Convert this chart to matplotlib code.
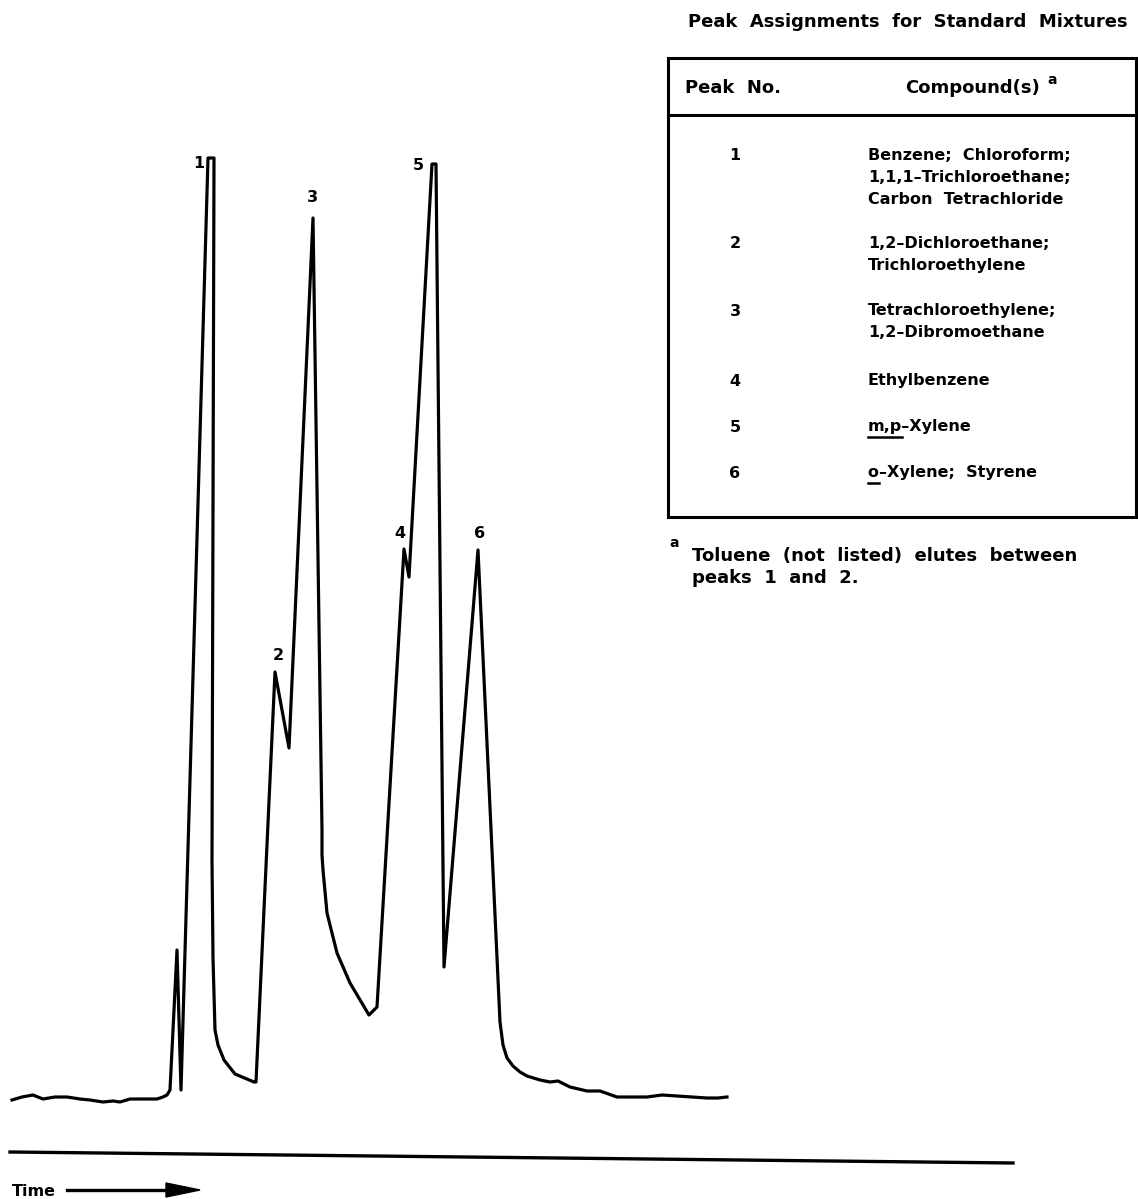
import numpy as np
import matplotlib.pyplot as plt
from matplotlib.patches import Rectangle, Polygon

plt.rcParams['font.family'] = ['DejaVu Sans']

# chromatogram trace (x = time, y = detector position, page units)
trace_time = [12, 22, 33, 43, 55, 67, 80, 90, 103, 113, 120, 130, 145, 157, 163, 167, 170,
              177, 181, 208, 214, 212, 213, 215, 218, 224, 235, 254, 256,
              275, 289, 313, 322, 322, 323, 327, 337, 350, 369, 377,
              404, 409, 432, 436, 444, 478, 500, 503, 507, 513, 520, 527, 540, 550,
              558, 570, 587, 600, 617, 632, 647, 662, 677, 692, 707, 718, 727]
trace_signal = [1100, 1097, 1095, 1099, 1097, 1097, 1099, 1100, 1102, 1101, 1102, 1099, 1099, 1099, 1097, 1095, 1090,
                950, 1090, 158, 158, 860, 958, 1030, 1045, 1060, 1074, 1082, 1082,
                672, 748, 218, 830, 855, 870, 913, 953, 983, 1015, 1007,
                549, 577, 164, 164, 967, 550, 1022, 1045, 1058, 1066, 1072, 1076, 1080, 1082,
                1081, 1087, 1091, 1091, 1097, 1097, 1097, 1095, 1096, 1097, 1098, 1098, 1097]

peak_labels = ['1', '2', '3', '4', '5', '6']
peak_label_x = [199, 278, 312, 400, 418, 480]
peak_label_y = [163, 656, 198, 533, 165, 533]

peak_numbers = ['1', '2', '3', '4', '5', '6']
compounds = [
    ['Benzene;  Chloroform;', '1,1,1–Trichloroethane;', 'Carbon  Tetrachloride'],
    ['1,2–Dichloroethane;', 'Trichloroethylene'],
    ['Tetrachloroethylene;', '1,2–Dibromoethane'],
    ['Ethylbenzene'],
    ['m,p–Xylene'],
    ['o–Xylene;  Styrene'],
]
underlined = ['', '', '', '', 'm,p', 'o']
row_y = [156, 244, 311, 381, 427, 473]
line_step = 21.5

fig = plt.figure(figsize=(11.38, 11.99), dpi=100)
ax = fig.add_axes([0, 0, 1, 1])
ax.set_xlim(0, 1138)
ax.set_ylim(1199, 0)
ax.axis('off')

ax.plot(trace_time, trace_signal, color='black', lw=2.3, solid_joinstyle='round')

fs = 11.5
big = 13
for lab, x, y in zip(peak_labels, peak_label_x, peak_label_y):
    ax.text(x, y, lab, ha='center', va='center', fontsize=fs, fontweight='bold')

# time axis and arrow
ax.plot([10, 1013], [1152, 1163], color='black', lw=2.4)
ax.text(12, 1191, 'Time', ha='left', va='center', fontsize=fs, fontweight='bold')
ax.plot([67, 170], [1190, 1190], color='black', lw=2.4)
ax.add_patch(Polygon([[166, 1183], [200, 1190], [166, 1197]], closed=True,
                     color='black'))

# table
ax.text(1128, 22, 'Peak  Assignments  for  Standard  Mixtures', ha='right', va='center',
        fontsize=big, fontweight='bold')
ax.add_patch(Rectangle((668, 58), 468, 459, fill=False, lw=2.2, ec='black'))
ax.plot([668, 1136], [115, 115], color='black', lw=2.2)
ax.text(685, 88, 'Peak  No.', ha='left', va='center', fontsize=big, fontweight='bold')
ax.text(905, 88, 'Compound(s)', ha='left', va='center', fontsize=big, fontweight='bold')
ax.text(1052, 80, 'a', ha='center', va='center', fontsize=10, fontweight='bold')

fig.canvas.draw()
renderer = fig.canvas.get_renderer()
inv = ax.transData.inverted()
for num, lines, ul, y in zip(peak_numbers, compounds, underlined, row_y):
    ax.text(735, y, num, ha='center', va='center', fontsize=fs, fontweight='bold')
    for i, line in enumerate(lines):
        ax.text(868, y + i * line_step, line, ha='left', va='center',
                fontsize=fs, fontweight='bold')
        if ul:
            probe = ax.text(868, y, ul, ha='left', va='center', fontsize=fs,
                            fontweight='bold')
            bb = probe.get_window_extent(renderer)
            probe.remove()
            (x0, _), (x1, _) = inv.transform([[bb.x0, bb.y0], [bb.x1, bb.y0]])
            ax.plot([x0, x1], [y + 10, y + 10], color='black', lw=1.8)

ax.text(674, 543, 'a', ha='center', va='center', fontsize=10, fontweight='bold')
ax.text(692, 556, 'Toluene  (not  listed)  elutes  between', ha='left', va='center',
        fontsize=big, fontweight='bold')
ax.text(692, 578, 'peaks  1  and  2.', ha='left', va='center', fontsize=big, fontweight='bold')

fig.savefig('out.png', dpi=100)
